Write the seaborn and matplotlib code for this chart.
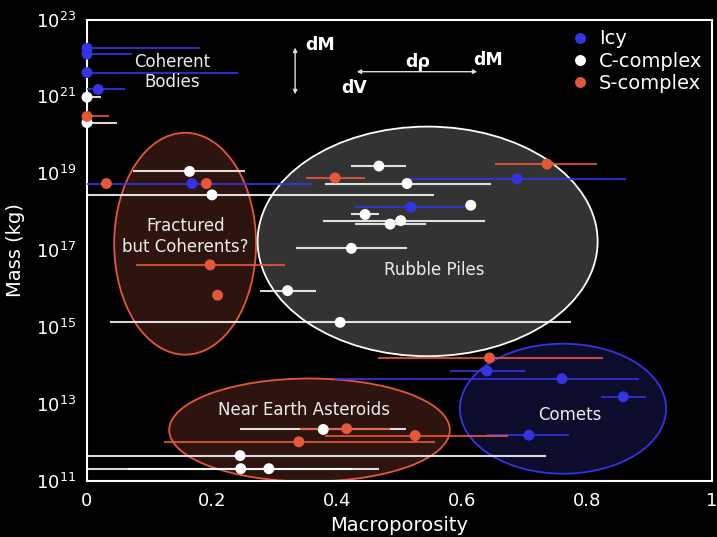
import numpy as np
import pandas as pd
import matplotlib
matplotlib.use("Agg")
import matplotlib.pyplot as plt
import seaborn as sns
from matplotlib.patches import Ellipse

# ---------------------------------------------------------------------------
# Data: macroporosity, log10 of mass (kg) and lower / upper porosity errors
# ---------------------------------------------------------------------------
icy_porosity = [0.0, 0.0, 0.0, 0.018, 0.168, 0.688, 0.518, 0.640, 0.760, 0.858, 0.707]
icy_logmass = [22.25, 22.10, 21.62, 21.18, 18.735, 18.86, 18.12, 13.86, 13.66, 13.19, 12.19]
icy_err_lo = [0.0, 0.0, 0.0, 0.018, 0.168, 0.174, 0.090, 0.060, 0.363, 0.036, 0.067]
icy_err_hi = [0.181, 0.072, 0.241, 0.042, 0.192, 0.174, 0.090, 0.060, 0.123, 0.036, 0.064]

c_porosity = [0.0, 0.0, 0.164, 0.200, 0.467, 0.512, 0.614, 0.445, 0.485, 0.502,
              0.423, 0.321, 0.405, 0.378, 0.245, 0.246, 0.291]
c_logmass = [20.98, 20.32, 19.05, 18.44, 19.19, 18.735, 18.17, 17.93, 17.68, 17.77,
             17.05, 15.95, 15.125, 12.34, 11.66, 11.32, 11.32]
c_err_lo = [0.0, 0.0, 0.090, 0.200, 0.044, 0.132, 0.0, 0.022, 0.056, 0.125,
            0.089, 0.045, 0.369, 0.133, 0.245, 0.246, 0.226]
c_err_hi = [0.023, 0.048, 0.088, 0.355, 0.044, 0.134, 0.0, 0.022, 0.058, 0.134,
            0.089, 0.045, 0.369, 0.133, 0.490, 0.178, 0.176]

s_porosity = [0.0, 0.031, 0.191, 0.397, 0.736, 0.197, 0.209, 0.644, 0.4155, 0.525, 0.339]
s_logmass = [20.48, 18.735, 18.735, 18.88, 19.24, 16.62, 15.83, 14.20, 12.36, 12.18, 12.02]
s_err_lo = [0.0, 0.0, 0.0, 0.047, 0.083, 0.118, 0.0, 0.178, 0.074, 0.144, 0.216]
s_err_hi = [0.035, 0.0, 0.0, 0.047, 0.080, 0.119, 0.0, 0.181, 0.070, 0.149, 0.218]

groups = ["Icy", "C-complex", "S-complex"]
colors = {"Icy": "#3434e2", "C-complex": "#ffffff", "S-complex": "#e5573a"}

# Regions: label, centre porosity, centre log10 mass, width, height (decades)
region_names = ["Fractured\nbut Coherents?", "Rubble Piles", "Near Earth Asteroids", "Comets"]
region_cx = [0.157, 0.545, 0.356, 0.7616]
region_cy = [17.17, 17.23, 12.325, 12.88]
region_w = [0.227, 0.544, 0.449, 0.330]
region_h = [5.77, 5.97, 2.68, 3.38]
region_face = ["#2e140e", "#333333", "#2e140e", "#0c0c2c"]
region_edge = ["#e5573a", "#ffffff", "#e5573a", "#3434e2"]

LOG_MIN, LOG_MAX = 11, 23

frames = []
for name, px, lm, lo, hi in [
    ("Icy", icy_porosity, icy_logmass, icy_err_lo, icy_err_hi),
    ("C-complex", c_porosity, c_logmass, c_err_lo, c_err_hi),
    ("S-complex", s_porosity, s_logmass, s_err_lo, s_err_hi),
]:
    frames.append(pd.DataFrame({
        "Macroporosity": px,
        "Mass": np.power(10.0, lm),
        "lo": lo,
        "hi": hi,
        "type": name,
    }))
df = pd.concat(frames, ignore_index=True)

sns.set_style("dark")
plt.rcParams["font.family"] = ["DejaVu Sans"]

fig = plt.figure(figsize=(7.17, 5.37), dpi=100, facecolor="black")
ax = fig.add_axes([87 / 717, 1 - 481 / 537, 625 / 717, 461.5 / 537])
ax.set_facecolor("black")
ax.grid(False)

# Region ellipses (drawn in axes fractions so they stay elliptical on the log axis)
for cx, cy, w, h, fc, ec in zip(region_cx, region_cy, region_w, region_h,
                                 region_face, region_edge):
    e = Ellipse((cx, (cy - LOG_MIN) / (LOG_MAX - LOG_MIN)),
                w, h / (LOG_MAX - LOG_MIN), transform=ax.transAxes,
                facecolor=fc, edgecolor=ec, lw=1.3, zorder=1)
    ax.add_patch(e)

# Horizontal porosity uncertainties
for name in groups:
    sub = df[df["type"] == name]
    ax.errorbar(sub["Macroporosity"], sub["Mass"],
                xerr=[sub["lo"].values, sub["hi"].values],
                fmt="none", ecolor=colors[name], elinewidth=1.5,
                capsize=0, alpha=0.85, zorder=3)

sns.scatterplot(data=df, x="Macroporosity", y="Mass", hue="type",
                hue_order=groups, palette=colors, s=62, edgecolor="none",
                linewidth=0, ax=ax, zorder=5, clip_on=False, legend=True)

ax.set_yscale("log")
ax.set_xlim(0, 1)
ax.set_ylim(10.0 ** LOG_MIN, 10.0 ** LOG_MAX)

# Ticks
ax.set_xticks([0, 0.2, 0.4, 0.6, 0.8, 1.0])
ax.set_xticklabels(["0", "0.2", "0.4", "0.6", "0.8", "1"])
exps = np.arange(LOG_MIN, LOG_MAX + 1)
ax.set_yticks(10.0 ** exps)
ax.set_yticklabels([rf"$10^{{{e}}}$" if e % 2 == 1 else "" for e in exps])
ax.yaxis.set_minor_locator(matplotlib.ticker.NullLocator())
ax.tick_params(axis="both", direction="in", length=6, width=1.5,
               color="white", labelcolor="white", labelsize=13, pad=8)

for sp in ax.spines.values():
    sp.set_visible(True)
    sp.set_color("white")
    sp.set_linewidth(1.5)

ax.set_xlabel("Macroporosity", color="white", fontsize=14, labelpad=4)
ax.set_ylabel("Mass (kg)", color="white", fontsize=14, labelpad=8)

# Legend
handles, labels = ax.get_legend_handles_labels()
leg = ax.legend(handles, labels, loc="upper left", bbox_to_anchor=(0.752, 1.008),
                frameon=False, fontsize=14, handletextpad=0.45, labelspacing=0.17,
                borderpad=0.2, handlelength=1.0, markerscale=1.0)
for t in leg.get_texts():
    t.set_color("white")

# Region labels
label_kw = dict(color="#ececec", fontsize=12, ha="center", va="center", zorder=6)
ax.text(0.137, 10 ** 21.635, "Coherent\nBodies", **label_kw)
ax.text(0.158, 10 ** 17.35, region_names[0], **label_kw)
ax.text(0.5557, 10 ** 16.487, region_names[1], **label_kw)
ax.text(0.347, 10 ** 12.847, region_names[2], **label_kw)
ax.text(0.773, 10 ** 12.717, region_names[3], **label_kw)

# Scaling sketch: dM vs dV and dρ
arrow_kw = dict(arrowstyle="<|-|>", color="#dddddd", lw=1.0,
                mutation_scale=6, shrinkA=0, shrinkB=0)
ax.annotate("", xy=(0.333, 10 ** 22.27), xytext=(0.333, 10 ** 21.055),
            arrowprops=arrow_kw, zorder=6)
ax.annotate("", xy=(0.4315, 10 ** 21.643), xytext=(0.6245, 10 ** 21.643),
            arrowprops=arrow_kw, zorder=6)
sketch_kw = dict(color="white", fontsize=12.5, fontweight="bold", va="baseline", zorder=6)
ax.text(0.349, 10 ** 22.207, "dM", ha="left", **sketch_kw)
ax.text(0.4075, 10 ** 21.081, "dV", ha="left", **sketch_kw)
ax.text(0.5285, 10 ** 21.773, "dρ", ha="center", **sketch_kw)
ax.text(0.618, 10 ** 21.817, "dM", ha="left", **sketch_kw)

fig.savefig("out.png", dpi=100, facecolor="black")
